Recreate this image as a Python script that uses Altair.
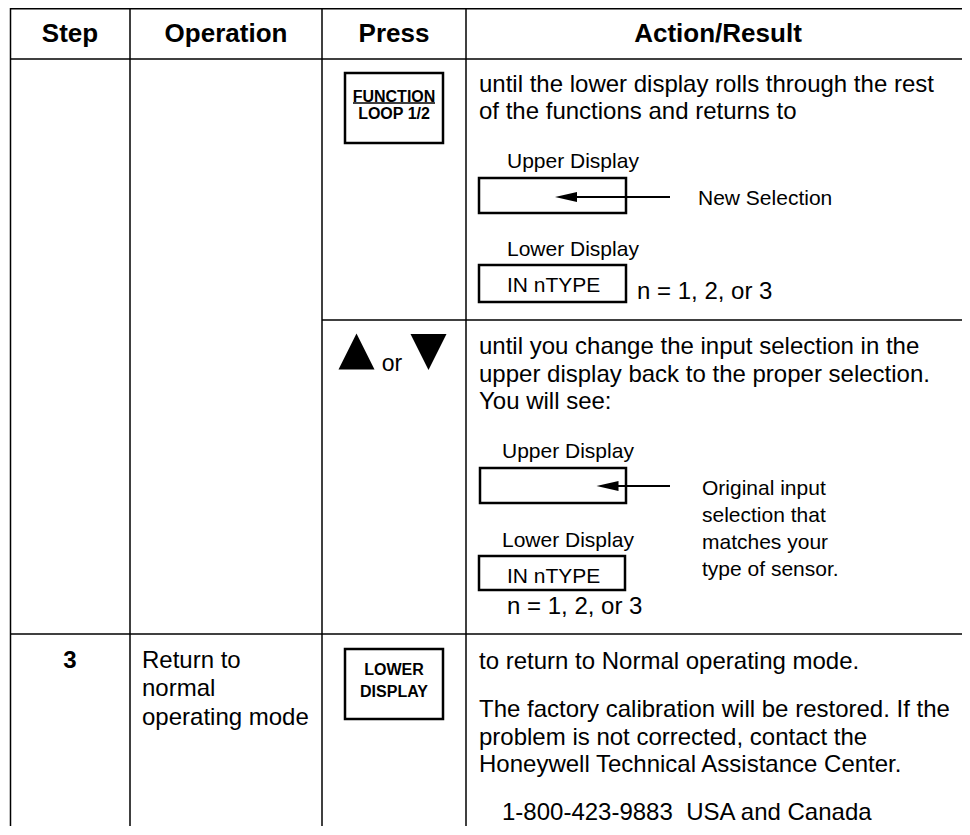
import altair as alt
import pandas as pd

# ---------------- content ----------------
HEADERS = ["Step", "Operation", "Press", "Action/Result"]
KEY_FUNCTION = ["FUNCTION", "LOOP 1/2"]
KEY_LOWER = ["LOWER", "DISPLAY"]
ROW1_TEXT = ["until the lower display rolls through the rest",
             "of the functions and returns to"]
ROW2_TEXT = ["until you change the input selection in the",
             "upper display back to the proper selection.",
             "You will see:"]
ROW3_STEP = "3"
ROW3_OPERATION = ["Return to", "normal", "operating mode"]
ROW3_TEXT = ["to return to Normal operating mode.",
             "The factory calibration will be restored. If the",
             "problem is not corrected, contact the",
             "Honeywell Technical Assistance Center."]
PHONE = "1-800-423-9883\u00a0\u00a0USA and Canada"
DISPLAY_LABELS = ["Upper Display", "Lower Display"]
LOWER_VALUE = "IN nTYPE"
N_NOTE = "n = 1, 2, or 3"
NEW_SEL = "New Selection"
ORIG_SEL = ["Original input", "selection that", "matches your", "type of sensor."]
OR_TEXT = "or"

# ---------------- layout (page pixel coordinates) ----------------
HEADER_X = [70, 226, 394, 718]
HEADER_Y = 34
COL_X = [10.5, 130, 322, 466]
ROW_LINES = [(10, 970, 59), (322, 970, 320), (10, 970, 634)]
TOP_Y = 8.75

texts = []
def add(t, x, y, size, weight="normal", align="left"):
    texts.append(dict(label=t, x=x, y=y, size=size, weight=weight, halign=align))

for h, hx in zip(HEADERS, HEADER_X):
    add(h, hx, HEADER_Y, 26, "bold", "center")
for t, yy in zip(KEY_FUNCTION, [97, 114]):
    add(t, 394, yy, 16, "bold", "center")
for t, yy in zip(KEY_LOWER, [670, 692]):
    add(t, 394, yy, 16, "bold", "center")
add(ROW3_STEP, 70, 661, 24, "bold", "center")
for t, yy in zip(ROW1_TEXT, [85, 112]):
    add(t, 479, yy, 24)
for t, yy in zip(ROW2_TEXT, [347, 375, 402]):
    add(t, 479, yy, 24)
for t, yy in zip(ROW3_TEXT, [662, 710, 738, 765]):
    add(t, 479, yy, 24)
add(PHONE, 502, 813, 24)
for t, yy in zip(ROW3_OPERATION, [661, 689, 718]):
    add(t, 142, yy, 24)
add(OR_TEXT, 392, 364, 23, "normal", "center")
add(N_NOTE, 637, 292, 24)
add(N_NOTE, 507, 607, 24)
add(DISPLAY_LABELS[0], 507, 162, 21)
add(NEW_SEL, 698, 199, 21)
add(DISPLAY_LABELS[1], 507, 250, 21)
add(LOWER_VALUE, 507, 286, 21)
add(DISPLAY_LABELS[0], 502, 452, 21)
add(DISPLAY_LABELS[1], 502, 541, 21)
add(LOWER_VALUE, 507, 577, 21)
for t, yy in zip(ORIG_SEL, [489, 516, 543, 570]):
    add(t, 702, yy, 21)
tdf = pd.DataFrame(texts)

rules = []
rules.append(dict(x=10, x2=970, y=TOP_Y, y2=TOP_Y, w=1.5))
for x1, x2, yy in ROW_LINES:
    rules.append(dict(x=x1, x2=x2, y=yy, y2=yy, w=1.5))
for cx in COL_X:
    rules.append(dict(x=cx, x2=cx, y=6, y2=835, w=1.5))
# arrow shafts and underline
rules.append(dict(x=566, x2=670, y=197, y2=197, w=2))
rules.append(dict(x=607, x2=670, y=486, y2=486, w=2))
rules.append(dict(x=353, x2=435, y=103, y2=103, w=1.5))
rdf = pd.DataFrame(rules)

boxes = pd.DataFrame([
    dict(x=345, x2=443, y=73, y2=143),
    dict(x=479, x2=626, y=178, y2=213),
    dict(x=479, x2=626, y=265, y2=302),
    dict(x=480, x2=626, y=468, y2=503),
    dict(x=479, x2=625, y=556, y2=590),
    dict(x=345, x2=443, y=649, y2=719),
])

tri_up = pd.DataFrame([dict(x=356.5, y=351.5)])
tri_down = pd.DataFrame([dict(x=428.5, y=352)])
heads = pd.DataFrame([dict(x=566, y=197), dict(x=607.5, y=486)])

W, H = 954, 818
xs = alt.Scale(domain=[8, 8 + W], nice=False, zero=False)
ys = alt.Scale(domain=[8, 8 + H], nice=False, zero=False, reverse=True)

def X(f="x"):
    return alt.X(f"{f}:Q", scale=xs, axis=None)

def Y(f="y"):
    return alt.Y(f"{f}:Q", scale=ys, axis=None)

layers = []
layers.append(alt.Chart(rdf).mark_rule(color="black").encode(
    x=X(), x2="x2:Q", y=Y(), y2="y2:Q",
    strokeWidth=alt.StrokeWidth("w:Q", scale=None)))
layers.append(alt.Chart(boxes).mark_rect(fillOpacity=0, stroke="black", strokeWidth=2.5).encode(
    x=X(), x2="x2:Q", y=Y(), y2="y2:Q"))
layers.append(alt.Chart(tri_up).mark_point(shape="M-1,1L1,1L0,-1Z", filled=True, fill="black",
                                           strokeWidth=0, opacity=1, size=1296).encode(x=X(), y=Y()))
layers.append(alt.Chart(tri_down).mark_point(shape="M-1,-1L1,-1L0,1Z", filled=True, fill="black",
                                             strokeWidth=0, opacity=1, size=1296).encode(x=X(), y=Y()))
layers.append(alt.Chart(heads).mark_point(shape="M-1,0L1,-0.45L1,0.45Z", filled=True, fill="black",
                                          strokeWidth=0, opacity=1, size=484).encode(x=X(), y=Y()))

for weight in ["normal", "bold"]:
    for align in ["left", "center"]:
        sub = tdf[(tdf["weight"] == weight) & (tdf["halign"] == align)]
        if len(sub) == 0:
            continue
        layers.append(alt.Chart(sub).mark_text(
            font="Liberation Sans", fontWeight=weight, align=align, baseline="middle",
            color="black").encode(
            x=X(), y=Y(), text="label:N",
            size=alt.Size("size:Q", scale=None)))

chart = alt.layer(*layers).properties(
    width=W, height=H, padding=0,
    autosize=alt.AutoSizeParams(type="none"),
    background="white",
).configure_view(strokeWidth=0)

chart.save("out.html", embed_options={"renderer": "svg", "actions": False})
